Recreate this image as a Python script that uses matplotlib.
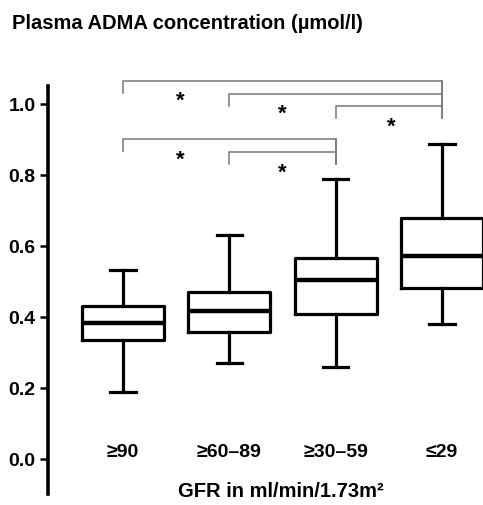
import matplotlib
matplotlib.use("Agg")
import matplotlib.pyplot as plt

plt.rcParams['font.family'] = ['Liberation Sans', 'DejaVu Sans']
plt.rcParams['font.weight'] = 'bold'

categories = ["≥90", "≥60–89", "≥30–59", "≤29"]
whislo = [0.19, 0.27, 0.26, 0.38]
q1 = [0.335, 0.358, 0.408, 0.483]
med = [0.382, 0.416, 0.503, 0.571]
q3 = [0.432, 0.471, 0.566, 0.679]
whishi = [0.532, 0.631, 0.790, 0.888]

# significance brackets
bracket_left = [1, 2, 3, 1, 2]
bracket_right = [4, 4, 4, 3, 3]
bracket_y = [1.065, 1.029, 0.994, 0.901, 0.866]
star_x = [1.54, 2.5, 3.52, 1.54, 2.5]
star_y = [1.010, 0.973, 0.938, 0.845, 0.808]

fig = plt.figure(figsize=(4.83, 5.06), dpi=100)
ax = fig.add_axes([48 / 483, 0.0208, 1 - 48 / 483, 0.8068])

positions = list(range(1, len(categories) + 1))
stats = []
for i in range(len(categories)):
    stats.append(dict(whislo=whislo[i], q1=q1[i], med=med[i], q3=q3[i],
                      whishi=whishi[i], fliers=[], label=categories[i]))

ax.bxp(stats, positions=positions, widths=0.77, showfliers=False,
       boxprops=dict(linewidth=2.3, color='black'),
       whiskerprops=dict(linewidth=2.3, color='black'),
       capprops=dict(linewidth=2.3, color='black'),
       medianprops=dict(linewidth=3.2, color='black'),
       capwidths=0.24)

ax.set_xlim(0.295, 4.386)
ax.set_ylim(-0.1, 1.05)

# brackets
tick_drop = 0.034
for a, b, y in zip(bracket_left, bracket_right, bracket_y):
    ax.plot([a, a, b, b], [y - tick_drop, y, y, y - tick_drop],
            color='#777777', lw=1.1, clip_on=False)
ax.plot([4, 4], [bracket_y[0], bracket_y[2] - tick_drop], color='#777777', lw=1.1, clip_on=False)
ax.plot([3, 3], [bracket_y[3], bracket_y[4] - tick_drop], color='#777777', lw=1.1, clip_on=False)

for x, y in zip(star_x, star_y):
    ax.text(x, y, "*", ha='center', va='center', fontsize=16, fontweight='bold',
            clip_on=False)

for s in ['top', 'right', 'bottom']:
    ax.spines[s].set_visible(False)
ax.spines['left'].set_linewidth(2.6)
ax.set_xticks([])
ax.set_yticks([0.0, 0.2, 0.4, 0.6, 0.8, 1.0])
ax.set_yticklabels(["0.0", "0.2", "0.4", "0.6", "0.8", "1.0"])
ax.tick_params(axis='y', length=6, width=1.8, labelsize=14, pad=3)
for lab in ax.get_yticklabels():
    lab.set_fontweight('bold')

for p, c in zip(positions, categories):
    ax.text(p, 0.02, c, ha='center', va='center', fontsize=14, fontweight='bold')

fig.text(0.582, 0.028, "GFR in ml/min/1.73m²", ha='center', va='center',
         fontsize=14.5, fontweight='bold')
fig.text(0.025, 0.953, "Plasma ADMA concentration (µmol/l)", ha='left', va='center',
         fontsize=14.5, fontweight='bold')

fig.savefig("out.png", dpi=100)
